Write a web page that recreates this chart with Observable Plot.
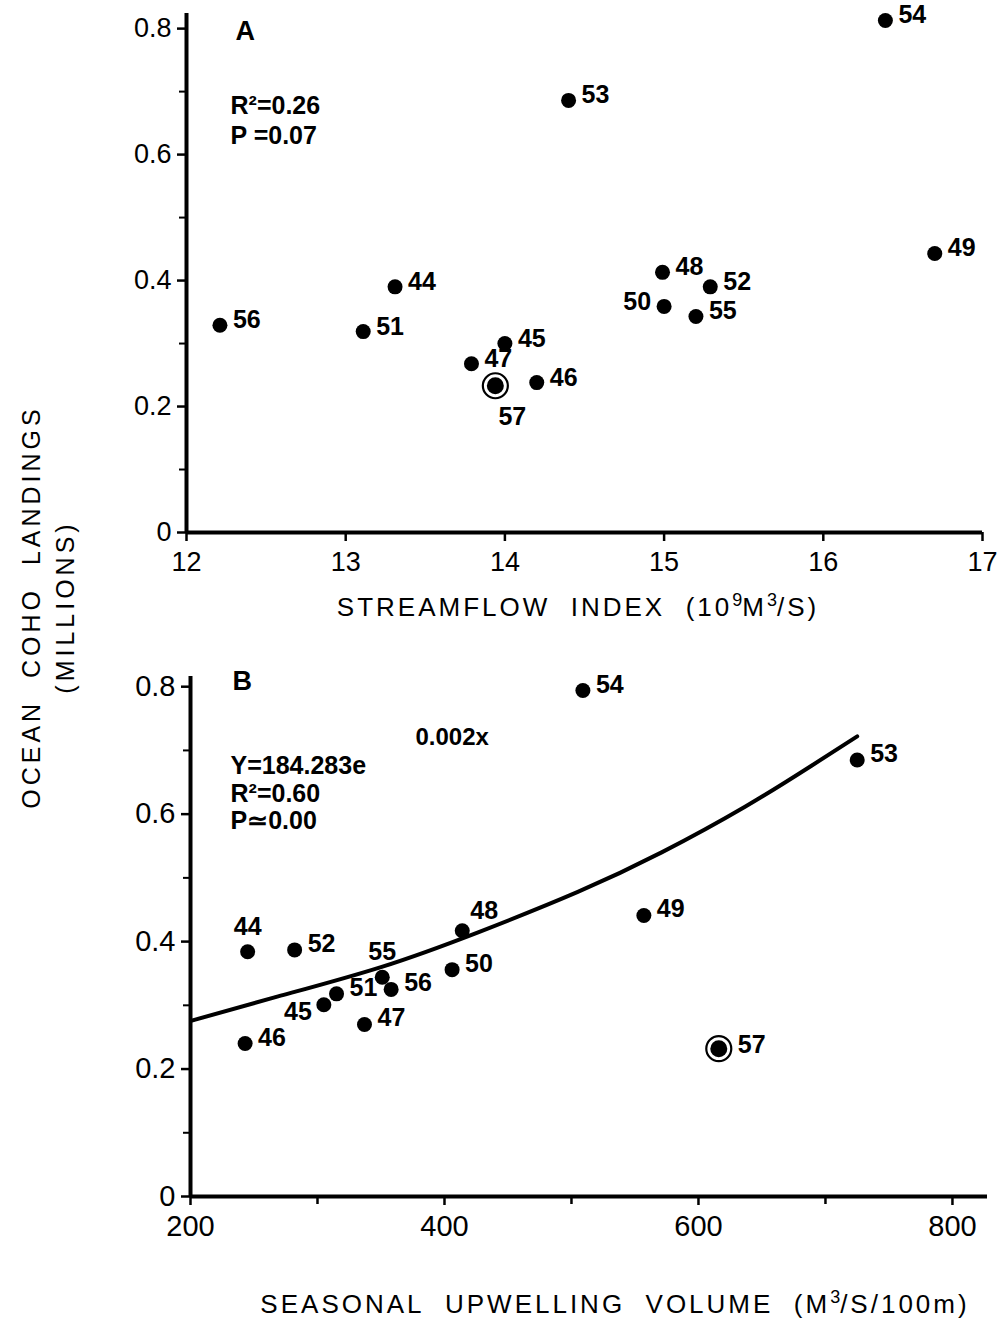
<!DOCTYPE html>
<html><head><meta charset="utf-8">
<script src="https://cdn.jsdelivr.net/npm/d3@7"></script>
<script src="https://cdn.jsdelivr.net/npm/@observablehq/plot@0.6"></script>
<style>
body{margin:0;background:#fff;}
#wrap{position:relative;width:1000px;height:1321px;font-family:"Liberation Sans",Arial,sans-serif;color:#000;background:#fff;overflow:hidden;}
.abs{position:absolute;}
.xlab{position:absolute;white-space:nowrap;font-size:26px;letter-spacing:3px;transform:translateX(-50%);}
.xlab sup{font-size:18px;position:relative;top:-2px;vertical-align:top;letter-spacing:0;}
.ylab{position:absolute;left:48px;top:607px;transform:translate(-50%,-50%) rotate(-90deg);text-align:center;white-space:nowrap;font-size:25px;letter-spacing:4px;line-height:34px;}
</style></head><body><div id="wrap"></div>
<script>
// ---- data ----
const years = ["44","45","46","47","48","49","50","51","52","53","54","55","56","57"];
// Panel A: streamflow index (10^9 m^3/s) vs ocean coho landings (millions)
const streamflow = [13.31, 14.00, 14.20, 13.79, 14.99, 16.70, 15.00, 13.11, 15.29, 14.40, 16.39, 15.20, 12.21, 13.94];
const landingsA  = [0.390, 0.300, 0.238, 0.268, 0.413, 0.443, 0.359, 0.319, 0.390, 0.686, 0.813, 0.343, 0.329, 0.233];
// Panel B: seasonal upwelling volume (m^3/s/100m) vs landings (millions)
const upwelling  = [245, 305, 243, 337, 414, 557, 406, 315, 282, 725, 509, 351, 358, 616];
const landingsB  = [0.384, 0.301, 0.240, 0.270, 0.417, 0.441, 0.356, 0.318, 0.387, 0.685, 0.794, 0.344, 0.325, 0.232];
// Fitted curve in B
const curveX = [201, 269, 350, 427, 505, 571, 637, 689, 725];
const curveY = [0.276, 0.314, 0.360, 0.415, 0.478, 0.540, 0.612, 0.676, 0.722];
const circledYear = "57";
// ticks
const xTicksA = [12, 13, 14, 15, 16, 17];
const yTicksMajor = [0, 0.2, 0.4, 0.6, 0.8];
const yTicksMinor = [0.1, 0.3, 0.5, 0.7];
const xTicksBMajor = [200, 400, 600, 800];
const xTicksBMinor = [300, 500, 700];
const annA = ["A", "R²=0.26", "P =0.07"];
const annB = ["B", "0.002x", "Y=184.283e", "R²=0.60", "P≃0.00"];

// ---- build ----
const rows = (xs, ys) => years.map((yr, i) => ({year: yr, x: xs[i], y: ys[i]}));
const dataA = rows(streamflow, landingsA);
const dataB = rows(upwelling, landingsB);
const curve = curveX.map((x, i) => ({x, y: curveY[i]}));
const yFmt = d => d === 0 ? "0" : d3.format(".1f")(d);

const FONT = "'Liberation Sans', Arial, sans-serif";
const LBL = {fontSize: 25, fontWeight: "bold", fill: "black"};

function labelMarks(data, groups) {
  const special = new Set(groups.filter(g => g.years).flatMap(g => g.years));
  return groups.map(g => Plot.text(
    data.filter(d => g.years ? g.years.includes(d.year) : !special.has(d.year)),
    {x: "x", y: "y", text: "year", dx: g.dx, dy: g.dy, textAnchor: g.textAnchor, ...LBL}
  ));
}

function pointMarks(data) {
  return [
    Plot.dot(data.filter(d => d.year !== circledYear), {x: "x", y: "y", r: 7.5, fill: "black"}),
    Plot.dot(data.filter(d => d.year === circledYear), {x: "x", y: "y", r: 12.5, fill: "white", stroke: "black", strokeWidth: 2.2}),
    Plot.dot(data.filter(d => d.year === circledYear), {x: "x", y: "y", r: 8.5, fill: "black"})
  ];
}

function ann(t, dx, dy, fs) {
  return Plot.text([t], {text: d => d, frameAnchor: "top-left", lineAnchor: "middle", dx, dy, textAnchor: "start", fontSize: fs, fontWeight: "bold"});
}

const plotA = Plot.plot({
  width: 1000, height: 640,
  marginLeft: 186, marginRight: 18, marginTop: 13, marginBottom: 108,
  style: {fontFamily: FONT, fontSize: "27px", background: "white", color: "black"},
  x: {domain: [12, 17]},
  y: {domain: [0, 0.824]},
  marks: [
    Plot.axisX(xTicksA, {tickSize: 9, tickPadding: 10, strokeWidth: 2.5, label: null, tickFormat: d => String(d)}),
    Plot.axisY(yTicksMajor, {tickSize: 9, tickPadding: 6, strokeWidth: 2.5, label: null, tickFormat: yFmt}),
    Plot.axisY(yTicksMinor, {tickSize: 7, strokeWidth: 2, label: null, tickFormat: () => ""}),
    Plot.ruleY([0], {stroke: "black", strokeWidth: 4}),
    Plot.ruleX([12], {stroke: "black", strokeWidth: 4}),
    ...pointMarks(dataA),
    ...labelMarks(dataA, [
      {dx: 13, dy: -5, textAnchor: "start"},
      {years: ["50"], dx: -13, dy: -4, textAnchor: "end"},
      {years: ["57"], dx: 17, dy: 31, textAnchor: "middle"}
    ]),
    ann(annA[0], 49, 18, 27),
    ann(annA[1], 44, 92, 25),
    ann(annA[2], 44, 122, 25)
  ]
});

const plotB = Plot.plot({
  width: 1000, height: 681,
  marginLeft: 190, marginRight: 13, marginTop: 36, marginBottom: 125,
  style: {fontFamily: FONT, fontSize: "29px", background: "white", color: "black"},
  x: {domain: [200, 827.6]},
  y: {domain: [0, 0.816]},
  marks: [
    Plot.axisX(xTicksBMajor, {tickSize: 9, tickPadding: 10, strokeWidth: 2.5, label: null, tickFormat: d => String(d)}),
    Plot.axisX(xTicksBMinor, {tickSize: 8, strokeWidth: 2.5, label: null, tickFormat: () => ""}),
    Plot.axisY(yTicksMajor, {tickSize: 9, tickPadding: 6, strokeWidth: 2.5, label: null, tickFormat: yFmt}),
    Plot.axisY(yTicksMinor, {tickSize: 7, strokeWidth: 2, label: null, tickFormat: () => ""}),
    Plot.ruleY([0], {stroke: "black", strokeWidth: 4}),
    Plot.ruleX([200], {stroke: "black", strokeWidth: 4}),
    Plot.line(curve, {x: "x", y: "y", stroke: "black", strokeWidth: 4, curve: "natural"}),
    ...pointMarks(dataB),
    ...labelMarks(dataB, [
      {dx: 13, dy: -6, textAnchor: "start"},
      {years: ["57"], dx: 19, dy: -4, textAnchor: "start"},
      {years: ["48"], dx: 8, dy: -20, textAnchor: "start"},
      {years: ["55", "44"], dx: 0, dy: -25, textAnchor: "middle"},
      {years: ["45"], dx: -12, dy: 7, textAnchor: "end"}
    ]),
    ann(annB[0], 42, 5, 27),
    ann(annB[1], 225, 61, 24),
    ann(annB[2], 40, 89, 25),
    ann(annB[3], 40, 117, 25),
    ann(annB[4], 40, 144, 25)
  ]
});

const wrap = document.getElementById("wrap");
plotA.style.position = "absolute"; plotA.style.left = "0px"; plotA.style.top = "0px";
plotB.style.position = "absolute"; plotB.style.left = "0px"; plotB.style.top = "640px";
wrap.appendChild(plotA);
wrap.appendChild(plotB);

const xa = document.createElement("div");
xa.className = "xlab"; xa.style.left = "578px"; xa.style.top = "592px";
xa.innerHTML = "STREAMFLOW&nbsp; INDEX&nbsp; (10<sup>9</sup>M<sup>3</sup>/S)";
wrap.appendChild(xa);

const xb = document.createElement("div");
xb.className = "xlab"; xb.style.left = "615px"; xb.style.top = "1289px";
xb.innerHTML = "SEASONAL&nbsp; UPWELLING&nbsp; VOLUME&nbsp; (M<sup>3</sup>/S/100m)";
wrap.appendChild(xb);

const yl = document.createElement("div");
yl.className = "ylab";
yl.innerHTML = "OCEAN&nbsp; COHO&nbsp; LANDINGS<br>(MILLIONS)";
wrap.appendChild(yl);
</script>
</body></html>
